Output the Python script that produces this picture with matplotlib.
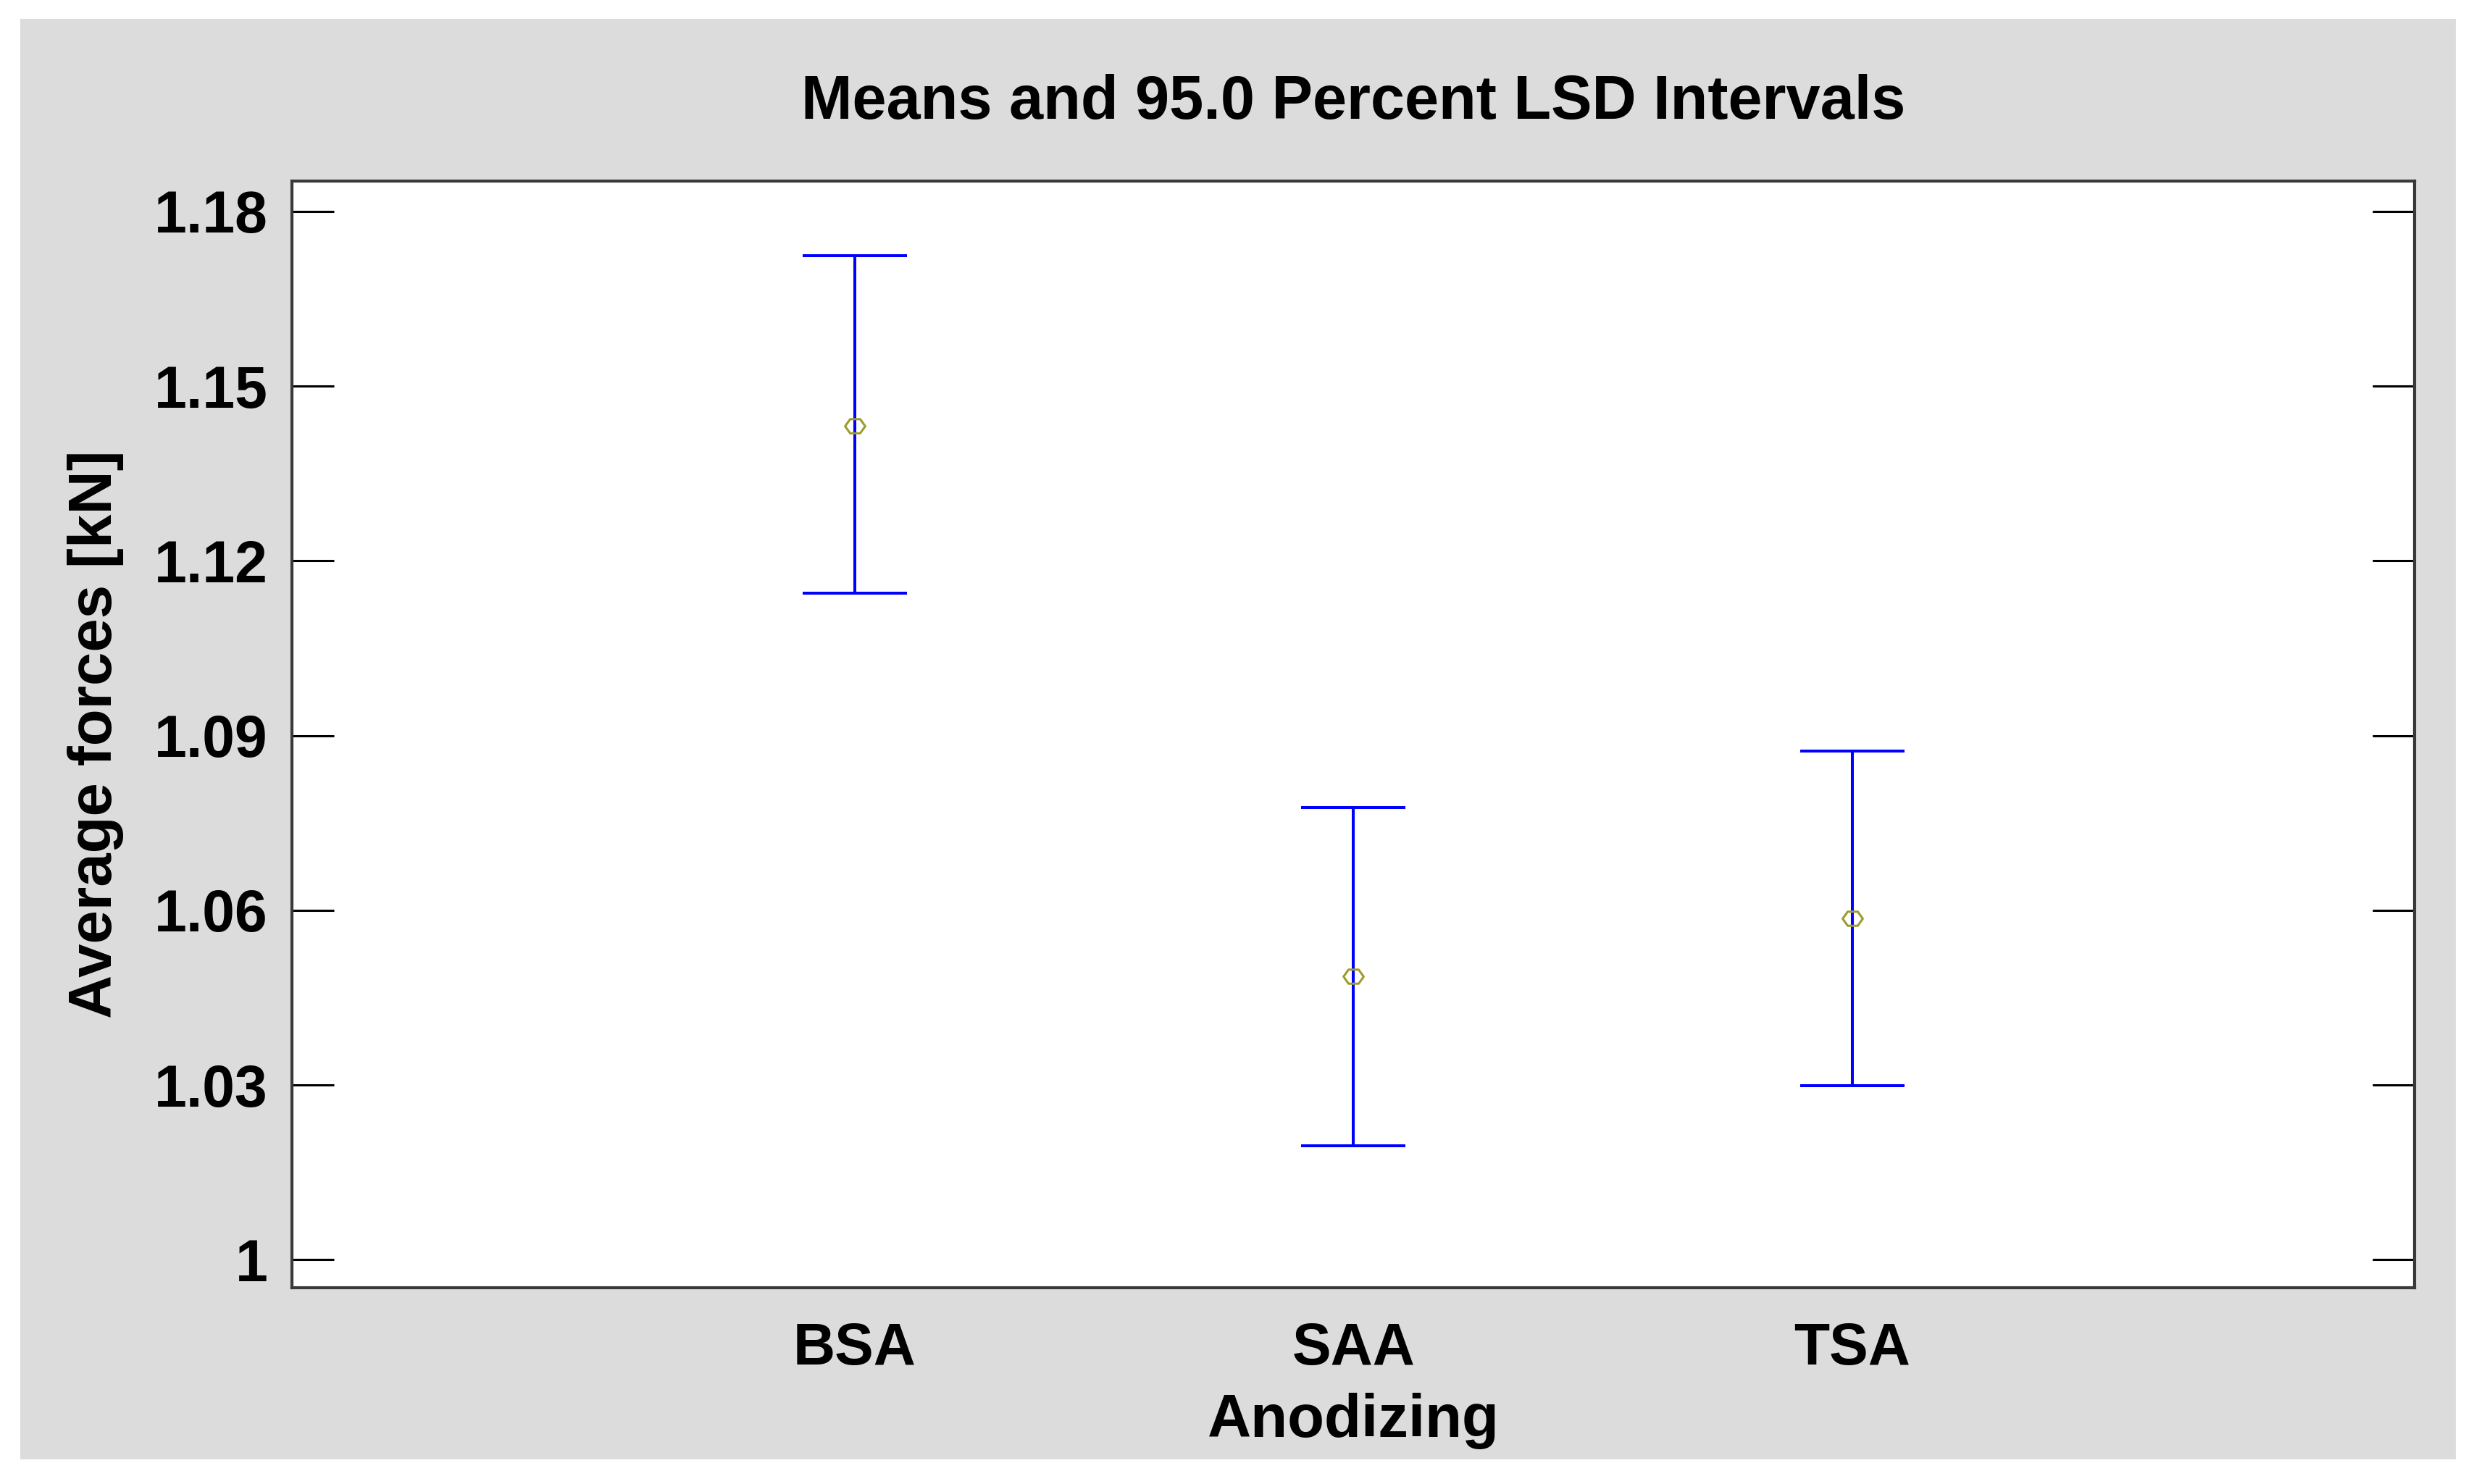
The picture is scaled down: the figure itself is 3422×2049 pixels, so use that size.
import matplotlib
matplotlib.use("Agg")
import matplotlib.pyplot as plt
from matplotlib.patches import Rectangle
from matplotlib.path import Path

categories = ["BSA", "SAA", "TSA"]
means = [1.1432, 1.0487, 1.0586]
lower = [1.1145, 1.0196, 1.0299]
upper = [1.1724, 1.0776, 1.0873]
yticks = [1.0, 1.03, 1.06, 1.09, 1.12, 1.15, 1.18]
ytick_labels = ["1", "1.03", "1.06", "1.09", "1.12", "1.15", "1.18"]

plt.rcParams['font.family'] = ['Liberation Sans', 'DejaVu Sans']

W, H = 3422, 2049
dpi = 100
fig = plt.figure(figsize=(W / dpi, H / dpi), dpi=dpi)
fig.patch.set_facecolor("white")
# grey panel
fig.patches.append(Rectangle((28 / W, 1 - 2015 / H), (3390 - 28) / W, (2015 - 26) / H,
                             transform=fig.transFigure, facecolor="#dcdcdc",
                             edgecolor="none", zorder=-10))

ax = fig.add_axes([403 / W, 1 - 1778 / H, (3333 - 403) / W, (1778 - 250) / H])
ax.set_zorder(1)
ax.set_facecolor("white")

x = list(range(1, len(categories) + 1))
yerr = [[m - l for m, l in zip(means, lower)], [u - m for u, m in zip(upper, means)]]
ax.errorbar(x, means, yerr=yerr, fmt="none", ecolor="#0000ff", elinewidth=2.9,
            capsize=52, capthick=2.9, zorder=2)

hexmark = Path([(-1, 0), (-0.5, 0.7), (0.5, 0.7), (1, 0), (0.5, -0.7), (-0.5, -0.7), (-1, 0)],
               [Path.MOVETO] + [Path.LINETO] * 5 + [Path.CLOSEPOLY])
ax.plot(x, means, linestyle="none", marker=hexmark, markersize=20,
        markerfacecolor="none", markeredgecolor="#9c9c30", markeredgewidth=2.2, zorder=3)

ax.set_xlim(-0.128, 4.127)
ax.set_ylim(0.9952, 1.1852)
ax.set_yticks(yticks)
ax.set_yticklabels(ytick_labels)
ax.set_xticks(x)
ax.set_xticklabels(categories)

for s in ax.spines.values():
    s.set_color("#3a3a3a")
    s.set_linewidth(3.0)

ax.tick_params(axis="y", which="both", direction="in", left=True, right=True,
               length=42, width=2.2, color="black", labelsize=58, pad=24)
ax.tick_params(axis="x", which="both", length=0, labelsize=58, pad=34)
for lbl in ax.get_yticklabels() + ax.get_xticklabels():
    lbl.set_fontweight("bold")

ax.set_title("Means and 95.0 Percent LSD Intervals", fontsize=61, fontweight="bold", pad=62)
ax.set_xlabel("Anodizing", fontsize=60, fontweight="bold", labelpad=16)
ax.set_ylabel("Average forces [kN]", fontsize=60, fontweight="bold", labelpad=30)

fig.savefig("out.png", dpi=dpi)
